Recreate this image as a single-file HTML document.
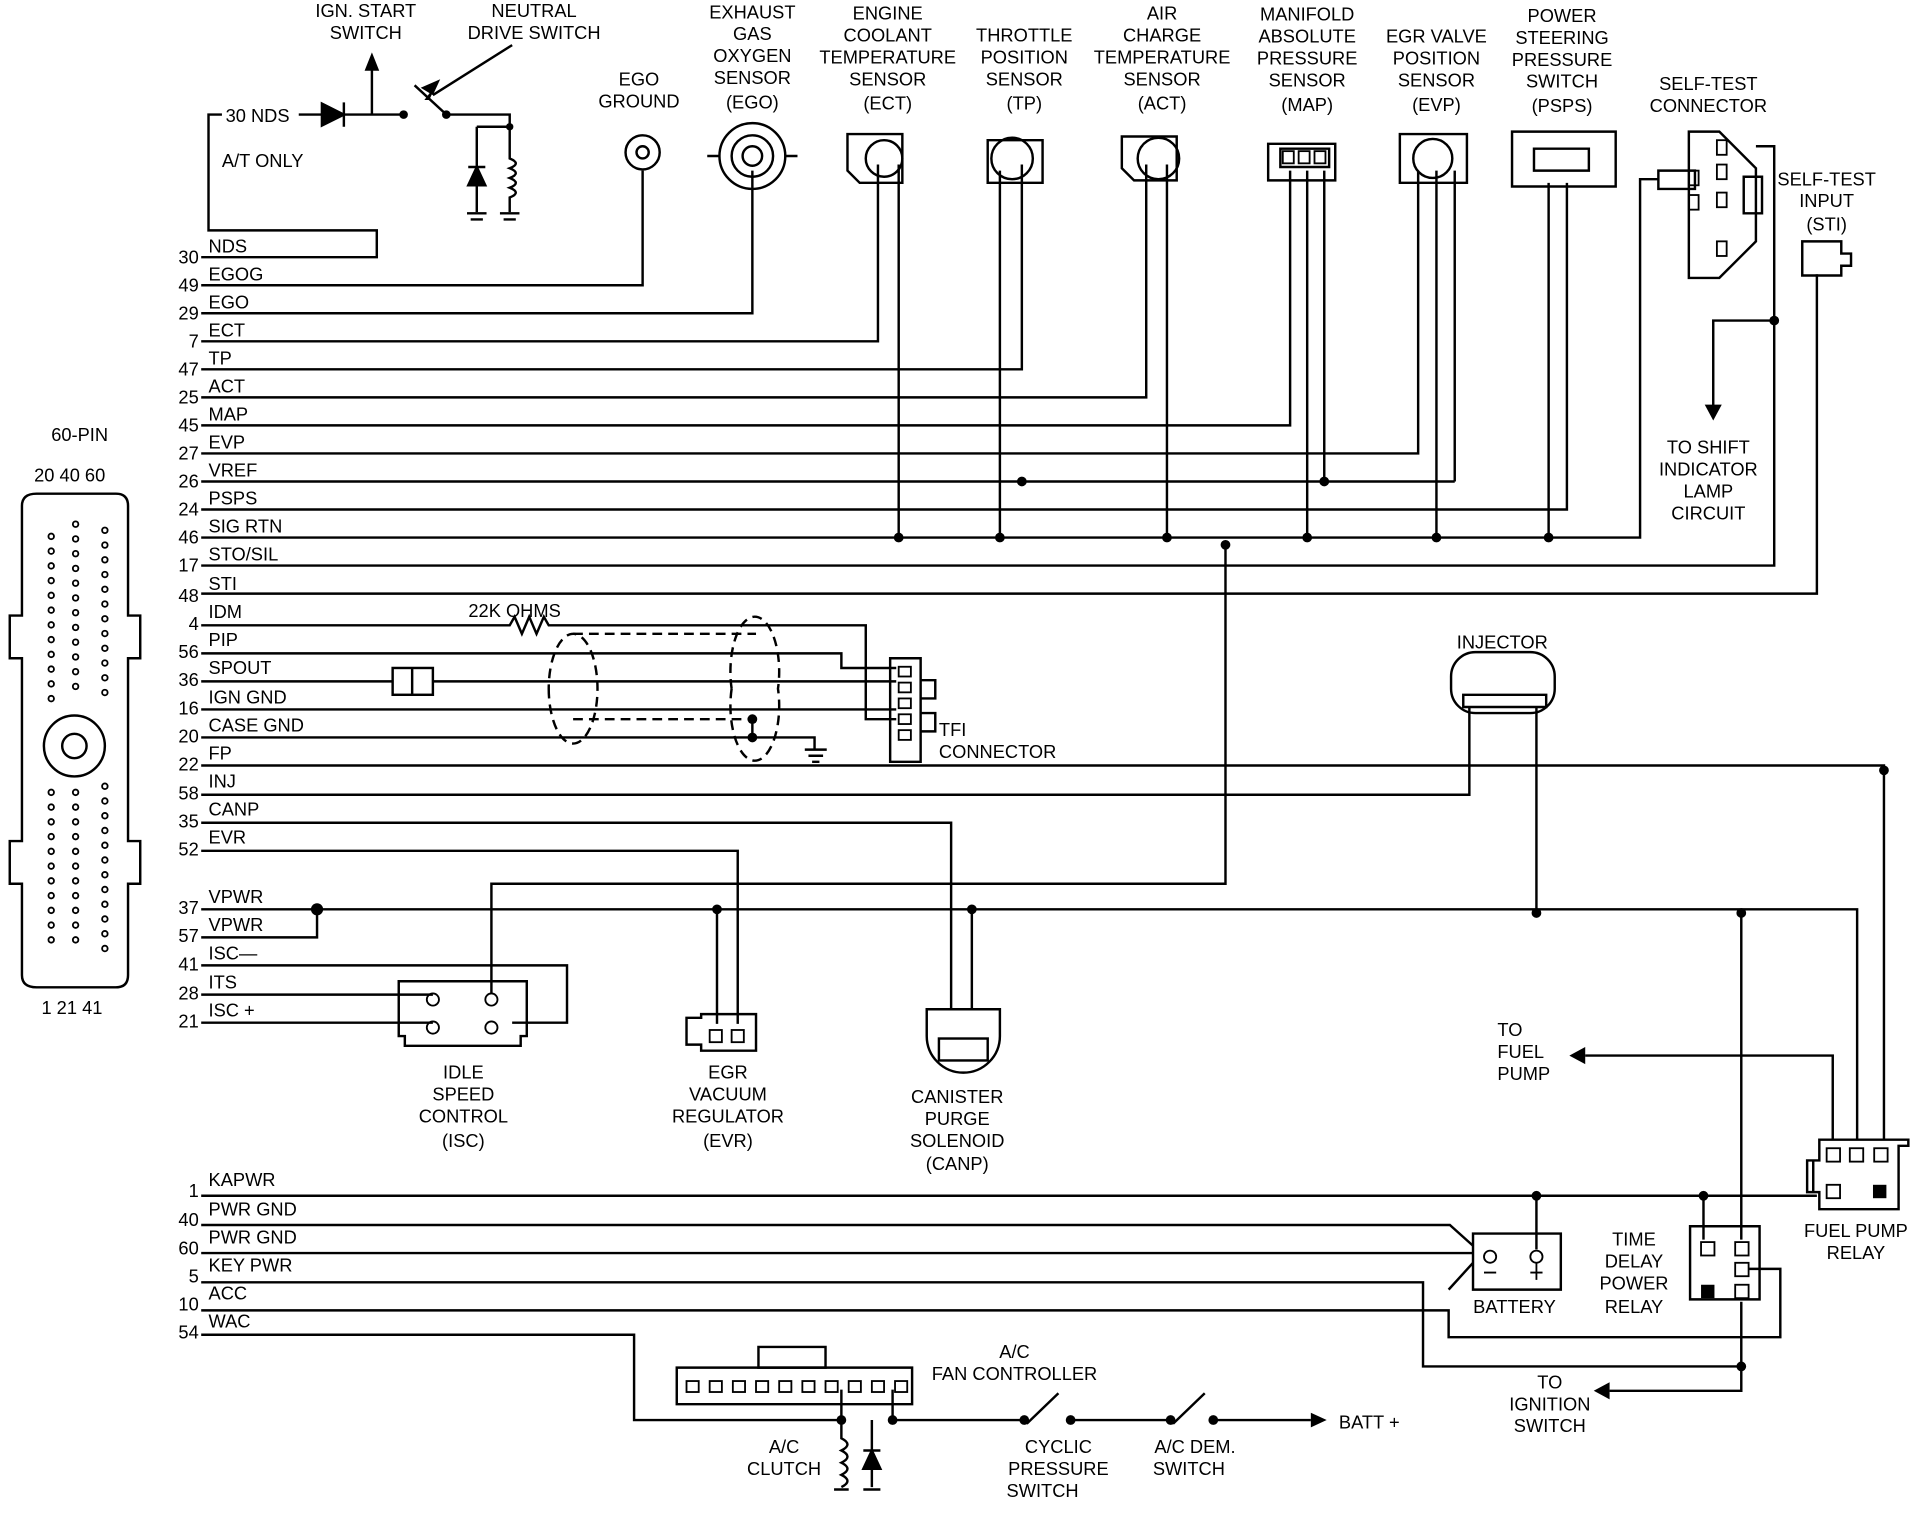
<!DOCTYPE html>
<html><head><meta charset="utf-8"><style>
html,body{margin:0;padding:0;background:#fff;}
svg{display:block;}
text{font-family:"Liberation Sans",sans-serif;font-size:15px;fill:#000;}
.s{fill:none;stroke:#000;stroke-width:2;}
</style></head><body>
<svg width="1912" height="1520" viewBox="0 0 1568 1247" preserveAspectRatio="none" xmlns="http://www.w3.org/2000/svg">
<rect width="1568" height="1247" fill="#fff"/>
<g class="s">
<path d="M30,405 H95 Q105,405 105,415 V505 H115 V540 H105 V690 H115 V725 H105 V800 Q105,810 95,810 H30 Q18,810 18,800 V725 H8 V690 H18 V540 H8 V505 H18 V415 Q18,405 30,405 Z"/>
<circle cx="61" cy="612" r="25"/><circle cx="61" cy="612" r="10"/>
</g>
<g fill="none" stroke="#000" stroke-width="1.3">
<path d="M42,440 V575 M62,430 V575 M86,435 V575 M42,650 V780 M62,650 V780 M86,645 V780" stroke-dasharray="0.1 12" stroke-linecap="round" stroke-width="6"/>
<path d="M42,440 V575 M62,430 V575 M86,435 V575 M42,650 V780 M62,650 V780 M86,645 V780" stroke="#fff" stroke-dasharray="0.1 12" stroke-linecap="round" stroke-width="3"/>
</g>
<text x="42" y="362">60-PIN</text>
<text x="28" y="395">20 40 60</text>
<text x="34" y="832">1  21  41</text>

<g text-anchor="end">
<text x="163" y="216">30</text><text x="163" y="239">49</text><text x="163" y="262">29</text><text x="163" y="285">7</text><text x="163" y="308">47</text><text x="163" y="331">25</text><text x="163" y="354">45</text><text x="163" y="377">27</text><text x="163" y="400">26</text><text x="163" y="423">24</text><text x="163" y="446">46</text><text x="163" y="469">17</text><text x="163" y="494">48</text><text x="163" y="517">4</text><text x="163" y="540">56</text><text x="163" y="563">36</text><text x="163" y="586">16</text><text x="163" y="609">20</text><text x="163" y="632">22</text><text x="163" y="656">58</text><text x="163" y="679">35</text><text x="163" y="702">52</text><text x="163" y="750">37</text><text x="163" y="773">57</text><text x="163" y="796">41</text><text x="163" y="820">28</text><text x="163" y="843">21</text>
<text x="163" y="982">1</text><text x="163" y="1006">40</text><text x="163" y="1029">60</text><text x="163" y="1052">5</text><text x="163" y="1075">10</text><text x="163" y="1098">54</text>
</g>
<g>
<text x="171" y="207">NDS</text><text x="171" y="230">EGOG</text><text x="171" y="253">EGO</text><text x="171" y="276">ECT</text><text x="171" y="299">TP</text><text x="171" y="322">ACT</text><text x="171" y="345">MAP</text><text x="171" y="368">EVP</text><text x="171" y="391">VREF</text><text x="171" y="414">PSPS</text><text x="171" y="437">SIG RTN</text><text x="171" y="460">STO/SIL</text><text x="171" y="484">STI</text><text x="171" y="507">IDM</text><text x="171" y="530">PIP</text><text x="171" y="553">SPOUT</text><text x="171" y="577">IGN GND</text><text x="171" y="600">CASE GND</text><text x="171" y="623">FP</text><text x="171" y="646">INJ</text><text x="171" y="669">CANP</text><text x="171" y="692">EVR</text><text x="171" y="741">VPWR</text><text x="171" y="764">VPWR</text><text x="171" y="787">ISC—</text><text x="171" y="811">ITS</text><text x="171" y="834">ISC +</text>
<text x="171" y="973">KAPWR</text><text x="171" y="997">PWR GND</text><text x="171" y="1020">PWR GND</text><text x="171" y="1043">KEY PWR</text><text x="171" y="1066">ACC</text><text x="171" y="1089">WAC</text>
</g>

<g class="s">
<path d="M165,211 H309 V189 H171 V94 H182"/>
<path d="M245,94 H264 M282,94 H331 M305,94 V55"/>
<path d="M264,85 L282,94 L264,103 Z" fill="#000"/><path d="M282,84 V104"/>
<path d="M340,70 L366,94 H418 V104 M391,104 H418 M391,104 V174 M418,104 V130 q10,4 0,8 q10,4 0,8 q10,4 0,8 q10,4 0,8 V174"/>
<path d="M384,152 H398 L391,137 Z" fill="#000"/><path d="M384,137 H398"/>
<path d="M383,175 H399 M386,180 H396 M410,175 H426 M413,180 H423"/>
<path d="M165,234 H527 V140"/>
<path d="M165,257 H617 V140"/>
<path d="M165,280 H720 V135 M737,135 V441"/>
<path d="M165,303 H838 V135 M820,140 V441"/>
<path d="M165,326 H940 V135 M957,135 V441"/>
<path d="M165,349 H1058 V140 M1072,140 V441 M1086,140 V395"/>
<path d="M165,372 H1163 V140 M1178,140 V441 M1193,140 V395"/>
<path d="M165,395 H1193"/>
<path d="M165,418 H1285 V150 M1270,150 V441"/>
<path d="M165,441 H1345 V147 H1360"/>
<path d="M165,464 H1455 V120 H1440 M1455,263 H1405 V335"/>
<path d="M165,487 H1490 V225"/>
<path d="M165,513 H418 l4,-7 l6,14 l6,-14 l6,14 l6,-14 l4,7 H710 V590 H735"/>
<path d="M165,536 H690 V548 H735"/>
<path d="M165,559 H322 M355,559 H735"/>
<path d="M165,582 H735"/>
<path d="M165,605 H617 V590 M617,605 H668 V615"/>
<path d="M660,615 H678 M663,620 H675 M666,625 H672"/>
<path d="M165,628 H1545 V935"/>
<path d="M165,652 H1205 V580"/>
<path d="M165,675 H780 V828 M797,746 V828"/>
<path d="M165,698 H605 V840 M588,746 V840"/>
<path d="M1005,447 V725 H403 V815"/>
<path d="M165,746 H1523 V935 M1260,746 V580 M1428,746 V1017"/>
<path d="M165,769 H260 V746"/>
<path d="M165,792 H465 V839 H420"/>
<path d="M165,816 H355"/>
<path d="M165,839 H355"/>
<path d="M1300,866 H1503 V935"/>
<path d="M165,981 H1490 M1397,981 V1017 M1260,981 V1025"/>
<path d="M165,1005 H1189 L1208,1022"/>
<path d="M165,1028 H1208"/>
<path d="M165,1052 H1167 V1121 H1428 V1141 H1320 M1428,1068 V1121"/>
<path d="M165,1075 H1188 V1097 H1460 V1041 H1434 M1188,1058 L1208,1036"/>
<path d="M165,1095 H520 V1165 H690 M690,1140 V1165 M732,1140 V1165 H840 M880,1165 H960 M995,1165 H1075"/>
<path d="M690,1165 V1180 q10,5 0,10 q10,5 0,10 q10,5 0,10 q10,5 0,10 M715,1165 V1220"/>
<path d="M708,1205 H722 L715,1190 Z" fill="#000"/><path d="M708,1190 H722"/>
<path d="M684,1222 H696 M708,1222 H722"/>
<path d="M842,1168 L868,1143 M962,1168 L988,1143"/>
<path d="M420,37 L355,78"/>
</g>
<g fill="#000">
<path d="M1398,332 L1405,345 L1412,332 Z"/>
<path d="M1300,859 L1287,866 L1300,873 Z"/>
<path d="M1320,1134 L1307,1141 L1320,1148 Z"/>
<path d="M1075,1159 L1088,1165 L1075,1171 Z"/>
<path d="M345,72 L361,65 L355,78 Z M348,82 L358,69 L352,82 Z"/>
<path d="M299,58 L305,43 L311,58 Z"/>
</g>
<g fill="#000">
<circle cx="331" cy="94" r="3.5"/><circle cx="366" cy="94" r="3.5"/><circle cx="418" cy="104" r="3"/>
<circle cx="737" cy="441" r="4"/><circle cx="820" cy="441" r="4"/><circle cx="957" cy="441" r="4"/><circle cx="1072" cy="441" r="4"/><circle cx="1178" cy="441" r="4"/><circle cx="1270" cy="441" r="4"/>
<circle cx="838" cy="395" r="4"/><circle cx="1086" cy="395" r="4"/>
<circle cx="1455" cy="263" r="4"/><circle cx="1005" cy="447" r="4"/>
<circle cx="617" cy="590" r="4"/><circle cx="617" cy="605" r="4"/>
<circle cx="1545" cy="632" r="4"/>
<circle cx="260" cy="746" r="5"/><circle cx="588" cy="746" r="4"/><circle cx="797" cy="746" r="4"/><circle cx="1260" cy="749" r="4"/><circle cx="1428" cy="749" r="4"/>
<circle cx="1397" cy="981" r="4"/><circle cx="1260" cy="981" r="4"/><circle cx="1428" cy="1121" r="4"/>
<circle cx="690" cy="1165" r="4"/><circle cx="732" cy="1165" r="4"/>
<circle cx="840" cy="1165" r="4"/><circle cx="878" cy="1165" r="4"/><circle cx="960" cy="1165" r="4"/><circle cx="995" cy="1165" r="4"/>
</g>
<g class="s">
<circle cx="527" cy="125" r="14"/><circle cx="527" cy="125" r="5"/>
<path d="M580,128 h10 a27,27 0 0 1 54,0 h10 M590,128 a27,27 0 0 0 54,0"/><circle cx="617" cy="128" r="17"/><circle cx="617" cy="128" r="8"/>
<path d="M695,110 h45 v40 h-35 l-10,-10 Z"/><circle cx="725" cy="130" r="15"/>
<path d="M810,115 h45 v35 h-45 Z"/><circle cx="830" cy="130" r="17"/>
<path d="M920,112 h45 v36 h-35 l-10,-10 Z"/><circle cx="950" cy="130" r="17"/>
<path d="M1040,118 h55 v30 h-55 Z M1050,122 h40 v15 h-40 Z"/>
<path d="M1148,110 h55 v40 h-55 Z"/><circle cx="1175" cy="130" r="16"/>
<path d="M1240,108 h85 v45 h-85 Z"/><path d="M1258,122 h45 v18 h-45 Z"/>
<path d="M1385,108 h25 l30,30 v60 l-30,30 h-25 Z M1360,140 h30 v15 h-30 Z"/><path d="M1430,145 h15 v30 h-15 Z"/>
<path d="M1478,198 h32 v10 h8 v10 h-8 v8 h-32 Z"/>
<path d="M730,540 h25 v85 h-25 Z M755,558 h12 v15 h-12 Z M755,585 h12 v15 h-12 Z"/>
<rect x="322" y="548" width="33" height="22"/><path d="M338,548 V570"/>
<path d="M1190,555 a20,20 0 0 1 20,-20 h45 a20,20 0 0 1 20,20 v10 a20,20 0 0 1 -20,20 h-45 a20,20 0 0 1 -20,-20 Z"/>
<path d="M1200,570 h68 v10 h-68 Z"/>
<path d="M327,805 h105 v45 h-5 v8 h-95 v-8 h-5 Z"/>
<path d="M563,835 h12 v-3 h45 v30 h-45 v-5 h-12 Z"/>
<path d="M760,850 a30,30 0 1 0 60,0 v-22 h-60 Z"/><rect x="770" y="852" width="40" height="18"/>
<path d="M1492,935 h73 v5 h-8 v52 h-65 v-14 h-10 v-26 h10 Z M1487,952 v26"/>
<path d="M1208,1012 h72 v46 h-72 Z"/>
<path d="M1386,1006 h57 v60 h-57 v-6 Z"/>
<path d="M555,1122 h193 v30 h-193 Z"/><path d="M622,1105 h55 v17 h-55 Z"/>
<path d="M450,565 a20,45 0 1 0 40,0 a20,45 0 1 0 -40,0 M600,565 a20,45 0 1 0 38,0 a20,45 0 1 0 -38,0" stroke-dasharray="8 5"/>
<path d="M470,520 H620 M470,590 H620" stroke-dasharray="8 5"/>
</g>
<g fill="none" stroke="#000" stroke-width="1.5">
<rect x="737" y="547" width="10" height="8"/><rect x="737" y="560" width="10" height="8"/><rect x="737" y="573" width="10" height="8"/><rect x="737" y="586" width="10" height="8"/><rect x="737" y="599" width="10" height="8"/>
<rect x="1052" y="124" width="9" height="10"/><rect x="1065" y="124" width="9" height="10"/><rect x="1078" y="124" width="9" height="10"/>
<rect x="1408" y="115" width="8" height="12"/><rect x="1408" y="135" width="8" height="12"/><rect x="1408" y="158" width="8" height="12"/><rect x="1408" y="198" width="8" height="12"/><rect x="1385" y="140" width="8" height="12"/><rect x="1385" y="160" width="8" height="12"/>
<rect x="582" y="845" width="10" height="10"/><rect x="600" y="845" width="10" height="10"/>
<rect x="1498" y="942" width="11" height="11"/><rect x="1517" y="942" width="11" height="11"/><rect x="1537" y="942" width="11" height="11"/><rect x="1498" y="972" width="11" height="11"/>
<rect x="1395" y="1019" width="11" height="11"/><rect x="1423" y="1019" width="11" height="11"/><rect x="1423" y="1036" width="11" height="11"/><rect x="1423" y="1054" width="11" height="11"/>
<rect x="563" y="1133" width="10" height="9"/><rect x="582" y="1133" width="10" height="9"/><rect x="601" y="1133" width="10" height="9"/><rect x="620" y="1133" width="10" height="9"/><rect x="639" y="1133" width="10" height="9"/><rect x="658" y="1133" width="10" height="9"/><rect x="677" y="1133" width="10" height="9"/><rect x="696" y="1133" width="10" height="9"/><rect x="715" y="1133" width="10" height="9"/><rect x="734" y="1133" width="10" height="9"/>
<circle cx="355" cy="820" r="5"/><circle cx="355" cy="843" r="5"/><circle cx="403" cy="820" r="5"/><circle cx="403" cy="843" r="5"/>
<circle cx="1222" cy="1031" r="5"/><circle cx="1260" cy="1031" r="5"/>
<path d="M1217,1044 H1227 M1260,1036 V1050 M1255,1044 H1265"/>
</g>
<g fill="#000"><rect x="1536" y="972" width="11" height="11"/><rect x="1395" y="1054" width="11" height="11"/></g>

<g text-anchor="middle">
<text x="300" y="14">IGN. START</text><text x="300" y="32">SWITCH</text>
<text x="438" y="14">NEUTRAL</text><text x="438" y="32">DRIVE SWITCH</text>
<text x="524" y="70">EGO</text><text x="524" y="88">GROUND</text>
<text x="617" y="15">EXHAUST</text><text x="617" y="33">GAS</text><text x="617" y="51">OXYGEN</text><text x="617" y="69">SENSOR</text><text x="617" y="89">(EGO)</text>
<text x="728" y="16">ENGINE</text><text x="728" y="34">COOLANT</text><text x="728" y="52">TEMPERATURE</text><text x="728" y="70">SENSOR</text><text x="728" y="90">(ECT)</text>
<text x="840" y="34">THROTTLE</text><text x="840" y="52">POSITION</text><text x="840" y="70">SENSOR</text><text x="840" y="90">(TP)</text>
<text x="953" y="16">AIR</text><text x="953" y="34">CHARGE</text><text x="953" y="52">TEMPERATURE</text><text x="953" y="70">SENSOR</text><text x="953" y="90">(ACT)</text>
<text x="1072" y="17">MANIFOLD</text><text x="1072" y="35">ABSOLUTE</text><text x="1072" y="53">PRESSURE</text><text x="1072" y="71">SENSOR</text><text x="1072" y="91">(MAP)</text>
<text x="1178" y="35">EGR VALVE</text><text x="1178" y="53">POSITION</text><text x="1178" y="71">SENSOR</text><text x="1178" y="91">(EVP)</text>
<text x="1281" y="18">POWER</text><text x="1281" y="36">STEERING</text><text x="1281" y="54">PRESSURE</text><text x="1281" y="72">SWITCH</text><text x="1281" y="92">(PSPS)</text>
<text x="1401" y="74">SELF-TEST</text><text x="1401" y="92">CONNECTOR</text>
<text x="1498" y="152">SELF-TEST</text><text x="1498" y="170">INPUT</text><text x="1498" y="189">(STI)</text>
<text x="1401" y="372">TO SHIFT</text><text x="1401" y="390">INDICATOR</text><text x="1401" y="408">LAMP</text><text x="1401" y="426">CIRCUIT</text>
<text x="1232" y="532">INJECTOR</text>
<text x="422" y="506">22K OHMS</text>
<text x="380" y="885">IDLE</text><text x="380" y="903">SPEED</text><text x="380" y="921">CONTROL</text><text x="380" y="941">(ISC)</text>
<text x="597" y="885">EGR</text><text x="597" y="903">VACUUM</text><text x="597" y="921">REGULATOR</text><text x="597" y="941">(EVR)</text>
<text x="785" y="905">CANISTER</text><text x="785" y="923">PURGE</text><text x="785" y="941">SOLENOID</text><text x="785" y="960">(CANP)</text>
<text x="1242" y="1077">BATTERY</text>
<text x="1340" y="1022">TIME</text><text x="1340" y="1040">DELAY</text><text x="1340" y="1058">POWER</text><text x="1340" y="1077">RELAY</text>
<text x="1522" y="1015">FUEL PUMP</text><text x="1522" y="1033">RELAY</text>
<text x="1271" y="1139">TO</text><text x="1271" y="1157">IGNITION</text><text x="1271" y="1175">SWITCH</text>
<text x="832" y="1114">A/C</text><text x="832" y="1132">FAN CONTROLLER</text>
<text x="643" y="1192">A/C</text><text x="643" y="1210">CLUTCH</text>
<text x="868" y="1192">CYCLIC</text><text x="868" y="1210">PRESSURE</text><text x="855" y="1228">SWITCH</text>
<text x="980" y="1192">A/C DEM.</text><text x="975" y="1210">SWITCH</text>
</g>
<text x="185" y="100">30 NDS</text>
<text x="182" y="137">A/T ONLY</text>
<text x="770" y="604">TFI</text><text x="770" y="622">CONNECTOR</text>
<text x="1228" y="850">TO</text><text x="1228" y="868">FUEL</text><text x="1228" y="886">PUMP</text>
<text x="1098" y="1172">BATT +</text>
</svg>
</body></html>
